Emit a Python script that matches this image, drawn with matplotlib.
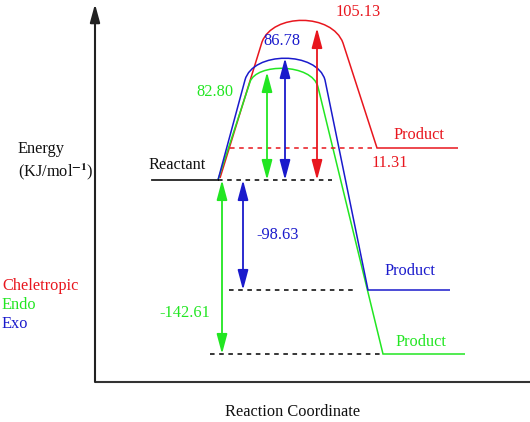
import matplotlib
matplotlib.use("Agg")
import matplotlib.pyplot as plt
from matplotlib.path import Path
from matplotlib.patches import PathPatch

plt.rcParams['font.family'] = ['Liberation Serif', 'DejaVu Serif']
plt.rcParams['mathtext.fontset'] = 'stix'

# ---- data (schematic diagram units: x = reaction coordinate, y = drawn level, reactant = 0) ----
pathways = ["Cheletropic", "Endo", "Exo"]
colors = {"Cheletropic": "#e8161e", "Endo": "#22e622", "Exo": "#1a1acc"}
energy_ts = {"Cheletropic": "105.13", "Endo": "82.80", "Exo": "86.78"}
energy_prod = {"Cheletropic": "11.31", "Endo": "-142.61", "Exo": "-98.63"}

reactant_x = [57, 123]
reactant_y = 0

# barrier outline: rise start, left shoulder, arc control 1, arc control 2, right shoulder, product start, product end
curve_x = {
    "Cheletropic": [125, 167, 178, 237, 248, 282, 363],
    "Exo":         [123, 150, 158, 222, 230, 273, 355],
    "Endo":        [123, 155, 161, 217, 223, 288, 370],
}
curve_y = {
    "Cheletropic": [2, 138, 167, 167, 137, 32, 32],
    "Exo":         [0, 100, 129, 129, 100, -110, -110],
    "Endo":        [0, 98, 117, 117, 93, -174, -174],
}

# reference dashed lines (x start, x end, level, color)
dash_x0 = [123, 135, 134, 115]
dash_x1 = [237, 277, 262, 287]
dash_y = [0, 32, -110, -174]
dash_c = ["k", colors["Cheletropic"], "k", "k"]

# double arrows (x, y bottom, y top, pathway)
arrow_x = [222, 190, 172, 127, 148]
arrow_y0 = [0, 0, 0, -174, -110]
arrow_y1 = [152, 122, 108, 0, 0]
arrow_p = ["Cheletropic", "Exo", "Endo", "Endo", "Exo"]

fig = plt.figure(figsize=(5.30, 4.22), dpi=100)
ax = fig.add_axes([0, 0, 1, 1])
ax.set_xlim(-95, 435)
ax.set_ylim(-242, 180)
ax.axis('off')

# axes lines
ax.plot([0, 435], [-202, -202], color='#333333', lw=1.5, solid_capstyle='butt')
ax.annotate('', xy=(0, 176), xytext=(0, -202),
            arrowprops=dict(arrowstyle='-|>,head_width=0.3,head_length=1.1', color='#222222', lw=1.5,
                            shrinkA=0, shrinkB=0))

# reactant
ax.plot(reactant_x, [reactant_y, reactant_y], color='#222222', lw=1.3)

# dashed lines
for x0, x1, yy, c in zip(dash_x0, dash_x1, dash_y, dash_c):
    ax.plot([x0, x1], [yy, yy], color=c, lw=1.1, ls=(0, (3, 3)))

# curves
for p in ["Cheletropic", "Endo", "Exo"]:
    xs, ys = curve_x[p], curve_y[p]
    verts = list(zip(xs, ys))
    codes = [Path.MOVETO, Path.LINETO, Path.CURVE4, Path.CURVE4, Path.CURVE4, Path.LINETO, Path.LINETO]
    ax.add_patch(PathPatch(Path(verts, codes), facecolor='none', edgecolor=colors[p], lw=1.1))

# arrows
for xx, y0, y1, p in zip(arrow_x, arrow_y0, arrow_y1, arrow_p):
    ax.annotate('', xy=(xx, y1), xytext=(xx, y0),
                arrowprops=dict(arrowstyle='<|-|>,head_width=0.32,head_length=1.2', color=colors[p],
                                lw=1.3, shrinkA=0, shrinkB=0))

fs = 11.8
# labels
ax.text(263, 168, energy_ts["Cheletropic"], color=colors["Cheletropic"], fontsize=fs, ha='center', va='center')
ax.text(187, 139, energy_ts["Exo"], color=colors["Exo"], fontsize=fs, ha='center', va='center')
ax.text(120, 88, energy_ts["Endo"], color=colors["Endo"], fontsize=fs, ha='center', va='center')
ax.text(324, 45, "Product", color=colors["Cheletropic"], fontsize=fs, ha='center', va='center')
ax.text(295, 17, energy_prod["Cheletropic"], color=colors["Cheletropic"], fontsize=fs, ha='center', va='center')
ax.text(82, 15, "Reactant", color='#111111', fontsize=fs, ha='center', va='center')
ax.text(183, -55, energy_prod["Exo"], color=colors["Exo"], fontsize=fs, ha='center', va='center')
ax.text(315, -91, "Product", color=colors["Exo"], fontsize=fs, ha='center', va='center')
ax.text(90, -133, energy_prod["Endo"], color=colors["Endo"], fontsize=fs, ha='center', va='center')
ax.text(326, -162, "Product", color=colors["Endo"], fontsize=fs, ha='center', va='center')

ax.text(-77, 31, "Energy", color='#111111', fontsize=fs, ha='left', va='center')
ax.text(-77, 8, "(KJ/mol$^{\\mathbf{-1}}$)", color='#111111', fontsize=fs, ha='left', va='center')

for i, p in enumerate(pathways):
    ax.text(-93, -106 - 19 * i, p, color=colors[p], fontsize=fs, ha='left', va='center')

ax.text(198, -232, "Reaction Coordinate", color='#111111', fontsize=fs, ha='center', va='center')

fig.savefig("out.png", dpi=100)
